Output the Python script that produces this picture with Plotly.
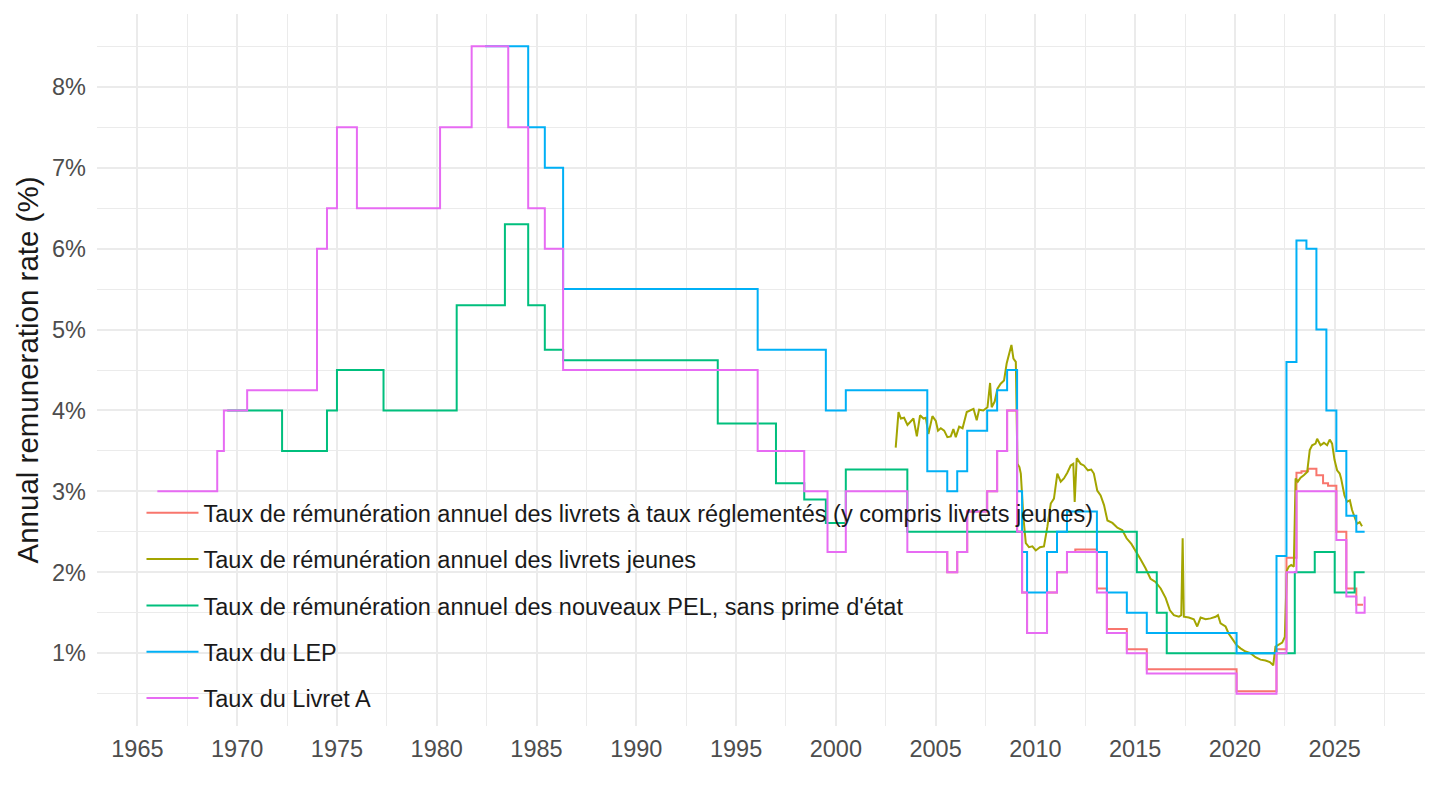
import plotly.graph_objects as go

# step series: change dates ("YYYY-MM") and the rate that starts there
# the last entry of each list is the end of the series
livret_a_dates = ["1966-01", "1969-01", "1969-05", "1970-07", "1974-01", "1974-07", "1975-01",
                  "1976-01", "1980-03", "1981-10", "1983-08", "1984-08", "1985-06", "1986-05",
                  "1996-02", "1998-06", "1999-08", "2000-07", "2003-08", "2005-08", "2006-02",
                  "2006-08", "2007-08", "2008-02", "2008-08", "2009-02", "2009-05", "2009-08",
                  "2010-08", "2011-02", "2011-08", "2013-02", "2013-08", "2014-08", "2015-08",
                  "2020-02", "2022-02", "2022-08", "2023-02", "2025-02", "2025-08", "2026-02",
                  "2026-07"]
livret_a_rates = [3.0, 3.5, 4.0, 4.25, 6.0, 6.5, 7.5,
                  6.5, 7.5, 8.5, 7.5, 6.5, 6.0, 4.5,
                  3.5, 3.0, 2.25, 3.0, 2.25, 2.0, 2.25,
                  2.75, 3.0, 3.5, 4.0, 2.5, 1.75, 1.25,
                  1.75, 2.0, 2.25, 1.75, 1.25, 1.0, 0.75,
                  0.5, 1.0, 2.0, 3.0, 2.4, 1.7, 1.5,
                  1.7]

lep_dates = ["1982-06", "1984-08", "1985-06", "1986-05", "1996-02", "1999-07", "2000-07",
             "2004-08", "2005-08", "2006-02", "2006-08", "2007-08", "2008-02", "2008-08",
             "2009-02", "2009-05", "2009-08", "2010-08", "2011-02", "2011-08", "2013-02",
             "2013-08", "2014-08", "2015-08", "2020-02", "2022-02", "2022-08", "2023-02",
             "2023-08", "2024-02", "2024-08", "2025-02", "2025-08", "2026-02", "2026-07"]
lep_rates = [8.5, 7.5, 7.0, 5.5, 4.75, 4.0, 4.25,
             3.25, 3.0, 3.25, 3.75, 4.0, 4.25, 4.5,
             3.0, 2.25, 1.75, 2.25, 2.5, 2.75, 2.25,
             1.75, 1.5, 1.25, 1.0, 2.2, 4.6, 6.1,
             6.0, 5.0, 4.0, 3.5, 2.7, 2.5, 2.5]

pel_dates = ["1969-07", "1972-04", "1974-07", "1975-01", "1977-05", "1981-01", "1983-06",
             "1984-08", "1985-06", "1986-05", "1994-02", "1997-01", "1998-06", "1999-07",
             "2000-07", "2003-08", "2015-02", "2016-02", "2016-08", "2023-01", "2024-01",
             "2025-01", "2026-01", "2026-07"]
pel_rates = [4.0, 3.5, 4.0, 4.5, 4.0, 5.3, 6.3,
             5.3, 4.75, 4.62, 3.84, 3.1, 2.9, 2.61,
             3.27, 2.5, 2.0, 1.5, 1.0, 2.0, 2.25,
             1.75, 2.0, 2.0]

regl_dates = ["2003-08", "2005-08", "2006-02", "2006-08", "2007-08", "2008-02", "2008-08",
              "2009-02", "2009-05", "2009-08", "2010-08", "2011-02", "2011-08", "2012-01",
              "2013-02", "2013-08", "2014-08", "2015-08", "2020-02", "2022-02", "2022-08",
              "2023-02", "2023-05", "2023-09", "2024-02", "2024-06", "2024-09", "2025-02",
              "2025-08", "2026-02", "2026-06"]
regl_rates = [2.25, 2.0, 2.25, 2.75, 3.0, 3.5, 4.0,
              2.5, 1.75, 1.25, 1.75, 2.0, 2.25, 2.28,
              1.8, 1.3, 1.05, 0.8, 0.53, 1.05, 2.18,
              3.23, 3.25, 3.28, 3.2, 3.1, 3.07, 2.5,
              1.8, 1.6, 1.6]

# livrets jeunes (decimal years)
jeunes_years = [2003.00, 2003.14, 2003.26, 2003.42, 2003.59, 2003.76, 2003.89, 2004.06, 2004.22,
                2004.39, 2004.51, 2004.64, 2004.84, 2005.01, 2005.12, 2005.26, 2005.43, 2005.59,
                2005.76, 2005.89, 2006.01, 2006.18, 2006.35, 2006.56, 2006.73, 2006.90, 2007.06,
                2007.18, 2007.39, 2007.60, 2007.73, 2007.81, 2007.96, 2008.10, 2008.26, 2008.43,
                2008.56, 2008.80, 2008.90, 2009.02, 2009.10, 2009.20, 2009.27, 2009.40, 2009.52,
                2009.68, 2009.85, 2010.02, 2010.23, 2010.43, 2010.60, 2010.77, 2010.93, 2011.10,
                2011.27, 2011.43, 2011.60, 2011.77, 2011.90, 2011.97, 2012.07, 2012.27, 2012.43,
                2012.63, 2012.80, 2012.93, 2013.10, 2013.27, 2013.44, 2013.61, 2013.86, 2014.11,
                2014.36, 2014.57, 2014.81, 2015.02, 2015.27, 2015.52, 2015.77, 2016.02, 2016.28,
                2016.53, 2016.74, 2016.94, 2017.19, 2017.31, 2017.38, 2017.44, 2017.69, 2017.94,
                2018.11, 2018.28, 2018.53, 2018.78, 2019.03, 2019.15, 2019.28, 2019.53, 2019.69,
                2019.86, 2020.08, 2020.28, 2020.53, 2020.78, 2021.03, 2021.28, 2021.53, 2021.75,
                2021.92, 2022.03, 2022.20, 2022.37, 2022.50, 2022.60, 2022.70, 2022.82, 2022.95,
                2023.04, 2023.15, 2023.29, 2023.45, 2023.62, 2023.75, 2023.87, 2024.04, 2024.12,
                2024.29, 2024.46, 2024.62, 2024.75, 2024.87, 2024.99, 2025.12, 2025.25, 2025.32,
                2025.49, 2025.62, 2025.76, 2025.87, 2025.99, 2026.12, 2026.25, 2026.37]
jeunes_rates = [3.54, 3.98, 3.90, 3.91, 3.82, 3.87, 3.90, 3.68, 3.94,
                3.90, 3.91, 3.71, 3.93, 3.87, 3.75, 3.78, 3.75, 3.67,
                3.68, 3.77, 3.67, 3.80, 3.78, 3.98, 4.00, 4.02, 3.88,
                4.01, 4.00, 4.04, 4.34, 4.04, 4.11, 4.27, 4.33, 4.37,
                4.58, 4.81, 4.64, 4.60, 3.34, 3.30, 3.22, 2.68, 2.36,
                2.31, 2.32, 2.27, 2.31, 2.32, 2.56, 2.85, 2.91, 3.22,
                3.12, 3.16, 3.23, 3.32, 3.34, 2.87, 3.41, 3.34, 3.32,
                3.26, 3.27, 3.22, 3.01, 2.95, 2.83, 2.64, 2.61, 2.55,
                2.52, 2.42, 2.35, 2.27, 2.16, 2.05, 1.92, 1.88, 1.80,
                1.68, 1.53, 1.47, 1.45, 1.47, 2.42, 1.45, 1.44, 1.42,
                1.33, 1.44, 1.42, 1.43, 1.45, 1.47, 1.37, 1.33, 1.24,
                1.18, 1.10, 1.06, 1.02, 1.00, 0.95, 0.92, 0.91, 0.89,
                0.85, 1.08, 1.10, 1.13, 1.20, 2.02, 2.07, 2.09, 2.07,
                3.16, 3.12, 3.17, 3.20, 3.24, 3.51, 3.57, 3.59, 3.65,
                3.57, 3.60, 3.57, 3.64, 3.59, 3.39, 3.26, 3.22, 3.16,
                2.95, 2.87, 2.89, 2.77, 2.68, 2.60, 2.62, 2.57]

names = ["Taux de rémunération annuel des livrets à taux réglementés (y compris livrets jeunes)",
         "Taux de rémunération annuel des livrets jeunes",
         "Taux de rémunération annuel des nouveaux PEL, sans prime d'état",
         "Taux du LEP",
         "Taux du Livret A"]
colors = ["#F8766D", "#A3A500", "#00BF7D", "#00B0F6", "#E76BF3"]


def to_year(months):
    # "YYYY-MM" -> decimal year
    return [int(m[:4]) + (int(m[5:7]) - 1) / 12 for m in months]


series = [
    (to_year(regl_dates), regl_rates, "hv"),
    (jeunes_years, jeunes_rates, "linear"),
    (to_year(pel_dates), pel_rates, "hv"),
    (to_year(lep_dates), lep_rates, "hv"),
    (to_year(livret_a_dates), livret_a_rates, "hv"),
]

fig = go.Figure()
for (x, y, shape), name, color in zip(series, names, colors):
    fig.add_trace(go.Scatter(x=x, y=y, mode="lines", name=name, legendgroup=name,
                             line=dict(color=color, width=2, shape=shape)))

grid = "#EBEBEB"
fig.update_layout(
    width=1440, height=810,
    margin=dict(l=89, r=23, t=6, b=92),
    paper_bgcolor="white", plot_bgcolor="white",
    font=dict(family="Liberation Sans, Arial, sans-serif", color="#4D4D4D", size=23.5),
    legend=dict(x=0.0335, y=0.33, xanchor="left", yanchor="top", bgcolor="rgba(0,0,0,0)",
                font=dict(color="#1A1A1A", size=23.5), tracegroupgap=12.75, itemwidth=52),
    showlegend=True,
)
fig.update_xaxes(range=[1962.975, 2029.525], tick0=1965, dtick=5, tickformat="d",
                 showgrid=True, gridcolor=grid, gridwidth=1.6, zeroline=False, showline=False,
                 ticks="", ticklabelstandoff=6, automargin=False,
                 minor=dict(dtick=2.5, showgrid=True, gridcolor=grid, gridwidth=0.9))
fig.update_yaxes(range=[0.1, 8.9], tick0=0, dtick=1, ticksuffix="%",
                 showgrid=True, gridcolor=grid, gridwidth=1.6, zeroline=False, showline=False,
                 ticks="", ticklabelstandoff=10, automargin=False,
                 minor=dict(dtick=0.5, showgrid=True, gridcolor=grid, gridwidth=0.9),
                 title=dict(text="Annual remuneration rate (%)", standoff=4,
                            font=dict(size=29.5, color="#1A1A1A")))

fig.write_html("out.html")
